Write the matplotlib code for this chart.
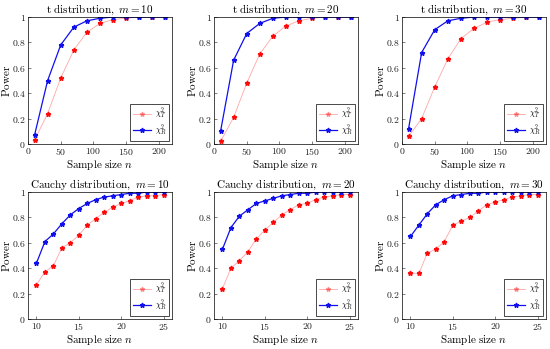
import numpy as np
import matplotlib
matplotlib.use('Agg')
import matplotlib.pyplot as plt

plt.rcParams['mathtext.fontset'] = 'cm'
plt.rcParams['font.family'] = 'serif'
plt.rcParams['font.serif'] = ['DejaVu Serif']

# sample sizes
n_t = [10, 30, 50, 70, 90, 110, 130, 150, 170, 190, 210]
n_cauchy = list(range(10, 26))

# t distribution power
t10_T = [0.03, 0.24, 0.52, 0.74, 0.88, 0.95, 0.98, 0.99, 1.0, 1.0, 1.0]
t10_R = [0.07, 0.50, 0.78, 0.92, 0.97, 0.99, 1.0, 1.0, 1.0, 1.0, 1.0]
t20_T = [0.02, 0.21, 0.48, 0.71, 0.85, 0.93, 0.97, 0.99, 1.0, 1.0, 1.0]
t20_R = [0.10, 0.66, 0.87, 0.95, 0.99, 1.0, 1.0, 1.0, 1.0, 1.0, 1.0]
t30_T = [0.06, 0.20, 0.45, 0.67, 0.83, 0.91, 0.96, 0.98, 0.99, 1.0, 1.0]
t30_R = [0.12, 0.72, 0.90, 0.97, 0.99, 1.0, 1.0, 1.0, 1.0, 1.0, 1.0]

# Cauchy distribution power
c10_T = [0.27, 0.37, 0.42, 0.56, 0.60, 0.66, 0.74, 0.79, 0.84, 0.88, 0.91, 0.93, 0.96, 0.97, 0.97, 0.98]
c10_R = [0.44, 0.61, 0.67, 0.75, 0.82, 0.87, 0.91, 0.94, 0.96, 0.97, 0.98, 0.99, 0.99, 1.0, 1.0, 1.0]
c20_T = [0.24, 0.40, 0.46, 0.53, 0.63, 0.70, 0.76, 0.82, 0.86, 0.90, 0.91, 0.94, 0.96, 0.97, 0.98, 0.98]
c20_R = [0.55, 0.72, 0.81, 0.86, 0.91, 0.93, 0.95, 0.97, 0.98, 0.99, 0.99, 1.0, 1.0, 1.0, 1.0, 1.0]
c30_T = [0.36, 0.36, 0.52, 0.55, 0.61, 0.74, 0.77, 0.80, 0.85, 0.90, 0.92, 0.94, 0.96, 0.97, 0.98, 0.98]
c30_R = [0.65, 0.74, 0.83, 0.90, 0.94, 0.97, 0.98, 0.99, 0.99, 1.0, 1.0, 1.0, 1.0, 1.0, 1.0, 1.0]

panels = [
    (n_t, t10_T, t10_R, r'$\mathrm{t\ distribution},\ m=10$'),
    (n_t, t20_T, t20_R, r'$\mathrm{t\ distribution},\ m=20$'),
    (n_t, t30_T, t30_R, r'$\mathrm{t\ distribution},\ m=30$'),
    (n_cauchy, c10_T, c10_R, r'$\mathrm{Cauchy\ distribution},\ m=10$'),
    (n_cauchy, c20_T, c20_R, r'$\mathrm{Cauchy\ distribution},\ m=20$'),
    (n_cauchy, c30_T, c30_R, r'$\mathrm{Cauchy\ distribution},\ m=30$'),
]

yticks = [0, 0.2, 0.4, 0.6, 0.8, 1]
ytick_labels = ['0', '0.2', '0.4', '0.6', '0.8', '1']
xticks_t = [0, 50, 100, 150, 200]
xticks_c = [10, 15, 20, 25]

fig = plt.figure(figsize=(5.5, 3.49), dpi=100)
W, H = 550, 349
lefts = [28, 214, 402]
tops = [17, 192]
aw, ah = 144, 127

for i, (x, yT, yR, title) in enumerate(panels):
    r, c = divmod(i, 3)
    ax = fig.add_axes([lefts[c] / W, 1 - (tops[r] + ah) / H, aw / W, ah / H])
    ax.plot(x, yT, '-*', color='red', lw=0.6, ms=3.5, alpha=0.35, label=r'$\chi^2_T$')
    ax.plot(x, yT, '*', color='red', ms=3.5, alpha=0.85)
    ax.plot(x, yR, '-*', color='#1010ee', lw=0.9, ms=3.5, label=r'$\chi^2_R$')
    ax.set_ylim(0, 1)
    ax.set_yticks(yticks)
    ax.set_yticklabels(['$%s$' % s for s in ytick_labels])
    xt = xticks_t if r == 0 else xticks_c
    if r == 0:
        ax.set_xlim(0, 220)
    else:
        ax.set_xlim(9, 26)
    ax.set_xticks(xt)
    ax.set_xticklabels(['$%d$' % v for v in xt])
    ax.tick_params(labelsize=7, length=2, width=0.4, direction='in', pad=1.5,
                   colors='#222222')
    for s in ax.spines.values():
        s.set_linewidth(0.5)
    ax.set_title(title, fontsize=8, pad=2)
    ax.set_xlabel(r'$\mathrm{Sample\ size}\ n$', fontsize=8, labelpad=1)
    ax.set_ylabel(r'$\mathrm{Power}$', fontsize=8)
    ax.yaxis.set_label_coords(-0.11, 0.5)
    h, l = ax.get_legend_handles_labels()
    ax.legend(h[:2], l[:2], loc='lower right', fontsize=6, fancybox=False,
              edgecolor='black', framealpha=1, borderpad=0.3, labelspacing=0.2,
              handlelength=2.2, handletextpad=0.4, borderaxespad=0.4).get_frame().set_linewidth(0.5)

fig.savefig('out.png', dpi=100)
